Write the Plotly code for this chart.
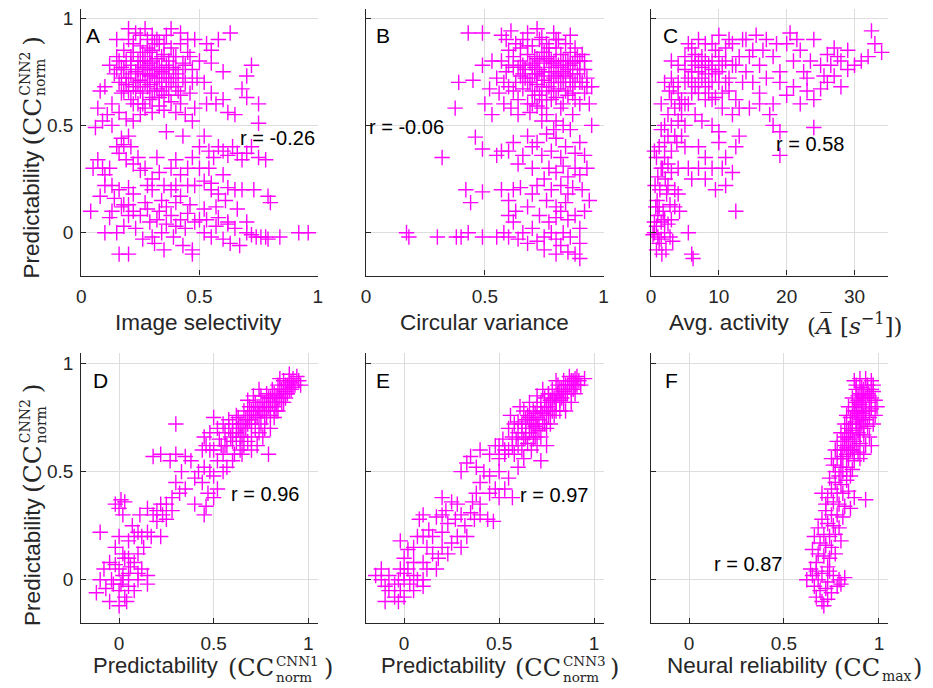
import plotly.graph_objects as go

# ---------------- data ----------------
panel_a_points = [
    (0.12,0.78),(0.14,0.74),(0.15,0.82),(0.16,0.7),(0.17,0.77),(0.18,0.85),(0.18,0.66),(0.19,0.8),(0.2,0.72),(0.2,0.9),
    (0.21,0.62),(0.21,0.78),(0.22,0.84),(0.22,0.68),(0.23,0.75),(0.23,0.93),(0.24,0.8),(0.24,0.6),(0.25,0.71),(0.25,0.87),
    (0.26,0.77),(0.26,0.65),(0.27,0.82),(0.27,0.58),(0.28,0.74),(0.28,0.9),(0.29,0.69),(0.29,0.79),(0.3,0.85),(0.3,0.63),
    (0.31,0.76),(0.31,0.72),(0.32,0.81),(0.32,0.67),(0.33,0.88),(0.33,0.59),(0.34,0.75),(0.34,0.7),(0.35,0.83),(0.35,0.64),
    (0.36,0.78),(0.36,0.92),(0.37,0.72),(0.38,0.86),(0.38,0.61),(0.39,0.77),(0.4,0.68),(0.4,0.82),(0.41,0.74),(0.42,0.88),
    (0.42,0.6),(0.43,0.79),(0.44,0.7),(0.45,0.84),(0.46,0.65),(0.47,0.76),(0.48,0.9),(0.49,0.72),(0.5,0.8),(0.48,0.58),
    (0.13,0.6),(0.1,0.68),(0.08,0.66),(0.07,0.58),(0.11,0.55),(0.16,0.56),(0.09,0.52),(0.06,0.49),(0.13,0.5),(0.19,0.53),
    (0.22,0.52),(0.25,0.55),(0.3,0.56),(0.35,0.57),(0.4,0.56),(0.44,0.55),(0.47,0.52),(0.27,0.95),(0.3,0.92),(0.2,0.95),
    (0.38,0.95),(0.42,0.93),(0.45,0.9),(0.15,0.9),(0.17,0.65),(0.24,0.7),(0.26,0.74),(0.28,0.78),(0.3,0.74),(0.32,0.7),
    (0.27,0.7),(0.23,0.66),(0.33,0.77),(0.29,0.84),(0.31,0.88),(0.25,0.8),(0.36,0.68),(0.37,0.8),(0.39,0.72),(0.34,0.66),
    (0.21,0.74),(0.19,0.69),(0.18,0.76),(0.26,0.84),
    (0.19,0.72),(0.21,0.82),(0.23,0.7),(0.24,0.76),(0.25,0.66),(0.26,0.8),(0.27,0.76),(0.28,0.68),(0.29,0.73),(0.3,0.8),
    (0.31,0.66),(0.32,0.76),(0.33,0.72),(0.34,0.82),(0.35,0.74),(0.36,0.72),(0.37,0.76),(0.38,0.7),(0.39,0.82),(0.4,0.76),
    (0.41,0.66),(0.22,0.88),(0.25,0.92),(0.28,0.86),(0.32,0.9),(0.35,0.88),(0.2,0.66),(0.17,0.72),(0.15,0.76),(0.16,0.8),
    (0.43,0.72),(0.44,0.78),(0.46,0.82),(0.47,0.7),(0.29,0.62),(0.33,0.63),(0.37,0.64),(0.26,0.6),(0.22,0.6),(0.42,0.64),
    (0.53,0.88),(0.55,0.85),(0.58,0.9),(0.63,0.93),(0.55,0.79),(0.6,0.75),(0.7,0.73),(0.72,0.78),(0.68,0.67),
    (0.7,0.63),(0.75,0.6),(0.75,0.51),(0.6,0.62),(0.57,0.6),(0.62,0.56),(0.65,0.55),(0.53,0.6),(0.52,0.7),(0.55,0.65),
    (0.05,0.3),(0.07,0.34),(0.09,0.3),(0.1,0.27),(0.12,0.3),(0.13,0.22),(0.15,0.4),(0.16,0.37),(0.17,0.44),(0.18,0.41),
    (0.19,0.34),(0.2,0.45),(0.21,0.4),(0.22,0.32),(0.24,0.35),(0.25,0.29),(0.27,0.3),(0.28,0.22),(0.3,0.25),(0.32,0.35),
    (0.33,0.28),(0.35,0.22),(0.36,0.47),(0.38,0.3),(0.4,0.34),(0.42,0.27),(0.43,0.45),(0.45,0.3),(0.47,0.35),(0.5,0.4),
    (0.52,0.45),(0.54,0.38),(0.56,0.35),(0.58,0.4),(0.6,0.38),(0.62,0.36),(0.64,0.4),(0.66,0.37),(0.68,0.34),(0.7,0.37),
    (0.72,0.4),(0.75,0.35),(0.78,0.34),(0.6,0.27),(0.55,0.23),(0.52,0.24),(0.5,0.3),(0.45,0.22),(0.4,0.22),(0.38,0.2),
    (0.2,0.21),(0.16,0.2),(0.1,0.22),(0.08,0.17),(0.14,0.16),(0.18,0.13),(0.22,0.18),(0.3,0.2),(0.34,0.15),(0.42,0.17),
    (0.55,0.2),(0.58,0.18),(0.62,0.21),(0.65,0.2),(0.68,0.2),(0.73,0.2),(0.79,0.17),(0.8,0.14),(0.61,0.15),(0.54,0.3),
    (0.48,0.22),
    (0.04,0.1),(0.12,0.07),(0.15,0.0),(0.16,-0.1),(0.18,0.03),(0.2,0.08),(0.2,-0.1),(0.22,0.1),(0.23,0.02),(0.25,0.08),
    (0.26,-0.03),(0.28,0.11),(0.29,0.05),(0.3,-0.02),(0.31,-0.05),(0.32,0.06),(0.33,0.1),(0.34,0.0),(0.35,-0.08),(0.36,0.04),
    (0.38,0.08),(0.39,-0.02),(0.4,0.03),(0.42,0.06),(0.43,-0.06),(0.44,0.02),(0.45,0.09),(0.47,-0.1),(0.47,-0.08),(0.48,0.05),
    (0.5,0.06),(0.52,0.0),(0.53,0.06),(0.55,-0.02),(0.57,0.03),(0.58,0.07),(0.6,-0.03),(0.62,0.04),(0.62,0.05),(0.63,-0.05),
    (0.65,0.02),(0.67,-0.06),(0.7,0.05),(0.7,0.0),(0.72,-0.01),(0.74,-0.02),(0.76,-0.02),(0.78,-0.02),(0.79,-0.03),(0.84,-0.02),
    (0.92,0.0),(0.96,0.0),(0.13,0.1),(0.17,0.12),(0.2,0.13),(0.27,0.14),(0.36,0.12),(0.4,0.14),(0.46,0.13),(0.52,0.11),
    (0.57,0.12),(0.66,0.11),(0.1,0.0),
]

panel_b_points = [
    (0.55,0.72),(0.56,0.65),(0.57,0.8),(0.58,0.6),(0.59,0.75),(0.6,0.68),(0.6,0.85),(0.61,0.58),(0.62,0.77),(0.63,0.7),
    (0.63,0.88),(0.64,0.62),(0.65,0.8),(0.65,0.73),(0.66,0.67),(0.66,0.9),(0.67,0.76),(0.68,0.83),(0.68,0.6),(0.69,0.7),
    (0.7,0.78),(0.7,0.87),(0.71,0.64),(0.71,0.74),(0.72,0.81),(0.72,0.69),(0.73,0.9),(0.73,0.76),(0.74,0.58),(0.74,0.84),
    (0.75,0.71),(0.75,0.79),(0.76,0.66),(0.76,0.88),(0.77,0.75),(0.77,0.82),(0.78,0.62),(0.78,0.7),(0.79,0.79),(0.79,0.93),
    (0.8,0.73),(0.8,0.86),(0.81,0.67),(0.81,0.78),(0.82,0.83),(0.82,0.58),(0.83,0.75),(0.83,0.7),(0.84,0.88),(0.84,0.8),
    (0.85,0.64),(0.85,0.76),(0.86,0.84),(0.86,0.72),(0.87,0.68),(0.87,0.79),(0.88,0.86),(0.88,0.62),(0.89,0.74),(0.9,0.8),
    (0.9,0.7),(0.91,0.83),(0.92,0.65),(0.92,0.76),(0.93,0.72),(0.94,0.6),(0.95,0.68),(0.69,0.56),(0.64,0.55),(0.76,0.55),
    (0.8,0.52),(0.72,0.95),(0.68,0.93),(0.61,0.94),(0.62,0.66),(0.67,0.72),(0.7,0.72),(0.74,0.73),(0.78,0.77),(0.82,0.7),
    (0.84,0.66),(0.86,0.78),(0.79,0.66),(0.73,0.64),(0.77,0.86),(0.81,0.9),(0.75,0.84),(0.71,0.82),(0.66,0.78),(0.88,0.8),
    (0.9,0.6),(0.83,0.6),(0.76,0.62),(0.72,0.59),
    (0.64,0.77),(0.66,0.74),(0.68,0.7),(0.69,0.79),(0.7,0.66),(0.71,0.77),(0.72,0.74),(0.73,0.8),(0.74,0.68),(0.75,0.75),
    (0.76,0.81),(0.77,0.68),(0.78,0.8),(0.79,0.72),(0.8,0.8),(0.81,0.74),(0.82,0.77),(0.83,0.8),(0.84,0.73),(0.85,0.8),
    (0.86,0.7),(0.87,0.74),(0.88,0.7),(0.89,0.82),(0.9,0.76),(0.91,0.7),(0.92,0.8),(0.68,0.87),(0.74,0.91),(0.8,0.9),
    (0.86,0.92),(0.62,0.82),(0.65,0.86),(0.6,0.78),(0.58,0.7),(0.7,0.6),(0.8,0.63),(0.87,0.65),(0.93,0.68),(0.74,0.62),
    (0.43,0.93),(0.49,0.93),(0.57,0.92),(0.59,0.9),(0.49,0.78),(0.53,0.8),(0.39,0.7),(0.45,0.71),(0.375,0.58),(0.52,0.67),
    (0.5,0.6),(0.53,0.55),(0.46,0.445),(0.49,0.39),(0.32,0.35),(0.55,0.36),(0.57,0.38),(0.42,0.2),(0.44,0.14),(0.49,0.19),
    (0.57,0.2),(0.62,0.2),(0.6,0.15),(0.65,0.21),(0.63,0.1),(0.62,0.05),(0.6,0.08),(0.17,0.0),(0.18,-0.02),(0.3,-0.02),
    (0.38,-0.02),(0.4,-0.02),(0.43,0.0),(0.49,-0.02),(0.55,-0.02),(0.6,-0.02),(0.58,0.0),(0.64,-0.03),
    (0.68,0.45),(0.7,0.4),(0.72,0.42),(0.74,0.36),(0.76,0.46),(0.78,0.38),(0.8,0.44),(0.82,0.35),(0.84,0.4),(0.86,0.48),
    (0.88,0.37),(0.9,0.42),(0.92,0.36),(0.77,0.3),(0.8,0.28),(0.83,0.31),(0.85,0.26),(0.88,0.3),(0.9,0.27),(0.75,0.25),
    (0.72,0.22),(0.78,0.2),(0.82,0.22),(0.85,0.18),(0.87,0.21),(0.84,0.14),(0.8,0.12),(0.76,0.15),(0.7,0.18),(0.68,0.12),
    (0.73,0.08),(0.77,0.05),(0.8,0.07),(0.82,0.1),(0.85,0.06),(0.88,0.08),(0.9,0.02),(0.83,0.0),(0.86,-0.02),(0.8,-0.03),
    (0.78,0.0),(0.75,-0.02),(0.72,-0.04),(0.7,0.02),(0.66,0.0),(0.68,-0.05),(0.82,-0.06),(0.85,-0.09),(0.88,-0.1),(0.9,-0.05),
    (0.9,-0.12),(0.8,-0.1),(0.75,-0.08),(0.92,0.1),(0.94,0.15),(0.91,0.2),(0.93,0.3),(0.95,0.5),(0.66,0.36),(0.7,0.3),
    (0.62,0.42),(0.6,0.38),(0.64,0.32),(0.87,0.55),(0.83,0.5),(0.74,0.52),(0.79,0.48),
]

panel_c_points = [
    (0.5,0.0),(1,-0.02),(0.8,0.03),(1.5,0.05),(1.2,-0.05),(2,0.0),(0.3,-0.01),(2.5,0.04),(1.8,0.1),(0.7,0.12),
    (2.2,-0.08),(1.6,-0.1),(3,0.06),(0.9,0.15),(2.8,0.13),(1.3,0.2),(0.6,0.22),(2.1,0.25),(3.5,0.2),(1.7,0.3),
    (0.8,0.35),(2.5,0.32),(4,0.3),(1.2,0.4),(3,0.38),(0.5,0.38),(3.8,0.42),(4.5,0.45),(2,0.42),(5,0.4),
    (4.2,0.1),(4,0.18),(6,-0.1),(6.2,-0.12),(5.5,0.0),(3.2,-0.04),(1,0.08),(2.3,0.18),
    (3,0.5),(3.5,0.45),(2.5,0.45),(1.5,0.48),(4,0.52),(1.5,0.3),(2,0.35),(3,0.28),(2.5,0.22),(1,0.26),
    (3.5,0.12),(1.2,0.12),(2,0.06),(0.5,0.05),(1.5,-0.03),(2.8,-0.02),(0.8,-0.08),
    (2,0.5),(1.5,0.6),(2.5,0.55),(3,0.62),(3.5,0.58),(4,0.65),(4.5,0.55),(5,0.7),(5.5,0.6),(6,0.75),
    (6.5,0.68),(7,0.8),(7.5,0.72),(8,0.62),(8.5,0.78),(9,0.7),(9.5,0.85),(10,0.75),(10.5,0.65),(11,0.8),
    (11.5,0.72),(12,0.88),(12.5,0.78),(13,0.82),(13.5,0.7),(14,0.9),(2,0.7),(3,0.72),(4,0.78),(5,0.82),
    (6,0.86),(7,0.9),(8,0.88),(9,0.8),(10,0.92),(11,0.86),(5.5,0.88),(6.5,0.83),(7.5,0.77),(8.5,0.7),
    (9.5,0.63),(10.5,0.58),(4.2,0.6),(3.3,0.68),(2.7,0.66),(7,0.65),(8,0.74),(6,0.7),(9,0.76),(10,0.7),
    (11.5,0.66),(12.5,0.62),(13,0.58),(12,0.55),(14.5,0.58),(6.5,0.55),(5,0.5),(7.5,0.52),(9,0.5),(10,0.47),
    (4.5,0.62),(5,0.6),(5.5,0.72),(6,0.65),(6.5,0.78),(7,0.7),(7.5,0.82),(8,0.8),(8.5,0.65),(9,0.88),
    (9.5,0.74),(10,0.82),(10.5,0.78),(11,0.7),(11.5,0.9),(12,0.78),(4,0.7),(5,0.76),(3,0.8),(6,0.8),
    (7,0.75),(8,0.68),(9,0.62),
    (7,0.4),(8,0.35),(9,0.3),(10,0.42),(11,0.35),(12,0.28),(12.5,0.4),(13,0.45),(10.5,0.3),(11,0.22),
    (9.5,0.2),(8,0.25),(7,0.3),(12.5,0.1),(5.5,0.3),(6,0.25),
    (15,0.85),(16,0.78),(17,0.9),(18,0.82),(19,0.75),(20,0.88),(21,0.8),(22,0.85),(23,0.72),(24,0.9),
    (25,0.78),(26,0.83),(27,0.86),(28,0.8),(29,0.76),(30,0.78),(32,0.82),(33,0.88),(34,0.84),(32.5,0.94),
    (15,0.7),(16,0.65),(17,0.72),(18,0.6),(19,0.7),(20,0.64),(21,0.68),(22,0.6),(23,0.66),(24,0.62),
    (25,0.67),(26,0.7),(27,0.73),(28,0.68),(17.5,0.55),(18,0.5),(19,0.47),(24,0.49),(19,0.36),(16,0.6),
    (14,0.75),(15.5,0.92),(18.5,0.88),(21.5,0.9),(20.5,0.93),(22.5,0.75),(14.5,0.82),(13.5,0.9),(16.5,0.85),(25.5,0.73),
    (27.5,0.82),(26.5,0.78),(29,0.85),(31,0.8),(23.5,0.8),
]

panel_d_points = [
    (0.5,0.6),(0.52,0.55),(0.53,0.65),(0.55,0.58),(0.56,0.68),(0.57,0.62),(0.58,0.7),(0.6,0.64),(0.6,0.72),(0.61,0.58),
    (0.62,0.68),(0.63,0.75),(0.64,0.66),(0.65,0.72),(0.66,0.78),(0.66,0.62),(0.67,0.7),(0.68,0.76),(0.69,0.8),(0.7,0.72),
    (0.7,0.66),(0.71,0.78),(0.72,0.82),(0.72,0.7),(0.73,0.75),(0.74,0.8),(0.75,0.85),(0.75,0.72),(0.76,0.78),(0.77,0.82),
    (0.78,0.75),(0.78,0.86),(0.79,0.8),(0.8,0.84),(0.8,0.7),(0.81,0.88),(0.82,0.8),(0.83,0.85),(0.84,0.9),(0.84,0.78),
    (0.85,0.84),(0.86,0.88),(0.87,0.82),(0.88,0.9),(0.89,0.86),(0.9,0.92),(0.91,0.88),(0.92,0.93),(0.93,0.9),(0.94,0.94),
    (0.95,0.92),(0.96,0.9),(0.62,0.76),(0.58,0.74),(0.55,0.72),(0.52,0.7),(0.48,0.68),(0.45,0.66),(0.5,0.75),(0.64,0.6),
    (0.68,0.64),(0.74,0.68),(0.77,0.7),(0.8,0.76),(0.82,0.75),(0.76,0.66),(0.57,0.52),(0.55,0.5),(0.6,0.55),(0.65,0.58),
    (0.7,0.6),(0.73,0.62),(0.79,0.58),(0.87,0.92),(0.85,0.93),(0.9,0.95),(0.88,0.84),(0.83,0.82),(0.67,0.74),(0.63,0.7),
    (0.59,0.66),(0.54,0.62),(0.48,0.6),(0.46,0.62),(0.44,0.6),(0.71,0.85),(0.68,0.83),(0.74,0.88),
    (0.6,0.68),(0.62,0.64),(0.64,0.72),(0.66,0.7),(0.68,0.72),(0.69,0.74),(0.7,0.78),(0.72,0.76),(0.73,0.8),(0.74,0.76),
    (0.75,0.78),(0.76,0.82),(0.77,0.76),(0.78,0.8),(0.79,0.84),(0.8,0.8),(0.81,0.82),(0.82,0.86),(0.83,0.78),(0.84,0.84),
    (0.85,0.88),(0.86,0.82),(0.87,0.86),(0.88,0.87),(0.89,0.9),(0.9,0.88),(0.91,0.91),(0.92,0.89),(0.65,0.66),(0.56,0.62),
    (0.45,0.52),(0.48,0.5),(0.44,0.45),(0.5,0.48),(0.52,0.42),(0.47,0.4),(0.42,0.5),(0.4,0.47),(0.38,0.55),(0.35,0.57),
    (0.3,0.58),(0.22,0.58),(0.18,0.57),(0.27,0.55),(0.33,0.5),(0.3,0.45),(0.35,0.42),(0.32,0.4),(0.28,0.38),(0.25,0.35),
    (0.3,0.72),(0.5,0.38),(0.46,0.34),(0.45,0.3),(0.4,0.35),(0.2,0.32),(0.22,0.35),(0.23,0.3),(0.18,0.3),(0.15,0.33),
    (0.2,0.27),(0.25,0.28),(0.28,0.32),(0.15,0.22),(0.12,0.2),(0.1,0.22),(0.08,0.2),(0.13,0.15),(0.1,0.12),(0.05,0.18),
    (0.07,0.25),(0.22,0.2),(0.17,0.2),(0.03,0.36),(0.01,0.37),(0.0,0.33),(0.02,0.3),(-0.02,0.35),(0.11,0.3),
    (-0.1,0.22),(0.0,0.2),(-0.02,0.15),(0.02,0.12),(0.05,0.1),(0.08,0.08),(0.1,0.03),(-0.05,0.08),(-0.08,0.05),(-0.1,0.0),
    (0.0,0.05),(0.02,0.0),(0.05,0.03),(-0.03,-0.02),(0.0,-0.05),(0.03,-0.08),(-0.05,-0.1),(-0.12,-0.06),(0.0,-0.12),(0.02,0.02),
    (-0.02,0.07),(0.05,-0.03),(0.1,0.0),(0.08,-0.05),(-0.04,0.0),(0.01,-0.02),(0.12,0.05),(0.15,0.02),(0.15,-0.02),(0.06,0.06),
    (-0.07,-0.04),(0.03,0.1),(0.04,-0.1),
]

panel_e_points = [
    (0.55,0.6),(0.57,0.66),(0.58,0.58),(0.6,0.68),(0.6,0.62),(0.62,0.72),(0.63,0.65),(0.64,0.7),(0.65,0.76),(0.66,0.68),
    (0.67,0.74),(0.68,0.78),(0.69,0.71),(0.7,0.8),(0.7,0.75),(0.71,0.69),(0.72,0.82),(0.73,0.77),(0.74,0.84),(0.74,0.72),
    (0.75,0.8),(0.76,0.86),(0.77,0.78),(0.78,0.88),(0.78,0.82),(0.79,0.76),(0.8,0.85),(0.81,0.9),(0.82,0.83),(0.83,0.88),
    (0.84,0.92),(0.85,0.86),(0.86,0.9),(0.87,0.94),(0.88,0.88),(0.89,0.92),(0.9,0.9),(0.91,0.94),(0.92,0.92),(0.93,0.9),
    (0.95,0.93),(0.58,0.72),(0.55,0.7),(0.5,0.62),(0.52,0.65),(0.48,0.62),(0.5,0.56),(0.53,0.58),(0.62,0.6),(0.65,0.63),
    (0.68,0.65),(0.72,0.66),(0.75,0.7),(0.77,0.72),(0.8,0.78),(0.82,0.78),(0.84,0.82),(0.6,0.52),(0.63,0.56),(0.67,0.6),
    (0.7,0.62),(0.75,0.62),(0.72,0.55),(0.76,0.86),(0.8,0.92),(0.73,0.88),(0.66,0.82),(0.7,0.85),(0.63,0.78),(0.56,0.76),
    (0.61,0.8),(0.85,0.78),(0.88,0.82),(0.9,0.86),(0.76,0.76),(0.7,0.7),(0.66,0.72),(0.64,0.74),(0.6,0.73),(0.69,0.66),
    (0.62,0.68),(0.64,0.66),(0.66,0.75),(0.68,0.72),(0.69,0.77),(0.71,0.74),(0.72,0.78),(0.73,0.72),(0.74,0.8),(0.75,0.76),
    (0.76,0.8),(0.77,0.83),(0.78,0.78),(0.79,0.84),(0.8,0.82),(0.81,0.86),(0.82,0.88),(0.83,0.84),(0.84,0.87),(0.85,0.9),
    (0.86,0.86),(0.87,0.9),(0.88,0.92),(0.89,0.88),(0.9,0.93),(0.91,0.9),(0.67,0.7),(0.59,0.65),(0.57,0.62),(0.53,0.6),
    (0.45,0.58),(0.4,0.6),(0.35,0.57),(0.3,0.5),(0.33,0.54),(0.38,0.52),(0.42,0.5),(0.45,0.48),(0.5,0.5),(0.55,0.47),
    (0.48,0.42),(0.45,0.4),(0.5,0.38),(0.53,0.42),(0.57,0.38),(0.4,0.45),(0.38,0.4),(0.36,0.36),(0.4,0.35),(0.35,0.31),
    (0.3,0.3),(0.28,0.35),(0.25,0.36),(0.2,0.38),(0.22,0.32),(0.27,0.28),(0.32,0.25),(0.37,0.28),(0.4,0.3),(0.44,0.28),
    (0.47,0.27),(0.23,0.26),(0.2,0.3),(0.17,0.29),(0.2,0.22),(0.1,0.3),(0.08,0.28),(0.13,0.23),(0.1,0.2),(0.07,0.2),
    (0.15,0.2),(0.12,0.15),(0.2,0.15),(0.25,0.17),(0.23,0.12),(0.18,0.1),(0.28,0.2),(0.3,0.15),(0.33,0.2),(0.15,0.12),
    (0.02,0.14),(0.0,0.1),(-0.02,0.18),(0.05,0.15),(0.05,0.08),(0.1,0.08),(0.17,0.05),
    (-0.15,0.02),(-0.12,0.0),(-0.1,-0.03),(-0.08,0.02),(-0.05,-0.02),(-0.03,0.0),(-0.02,-0.05),(0.0,0.0),(0.02,0.05),(0.0,-0.08),
    (-0.05,-0.08),(-0.1,-0.1),(-0.08,-0.05),(0.03,-0.02),(0.05,0.02),(0.07,0.0),(-0.02,0.05),(-0.12,0.05),(0.1,0.0),(0.12,0.05),
    (0.0,0.03),(-0.03,-0.1),(0.05,-0.05),(0.1,-0.03),
]

panel_f_points = [
    (0.87,0.92),(0.9,0.93),(0.93,0.93),(0.96,0.92),(0.88,0.88),(0.91,0.89),(0.94,0.88),(0.97,0.87),(0.86,0.84),(0.89,0.85),
    (0.92,0.84),(0.95,0.85),(0.98,0.83),(0.84,0.8),(0.87,0.8),(0.9,0.81),(0.93,0.8),(0.96,0.79),(0.99,0.8),(0.83,0.76),
    (0.86,0.76),(0.89,0.77),(0.92,0.76),(0.95,0.75),(0.98,0.76),(0.82,0.72),(0.85,0.72),(0.88,0.73),(0.91,0.72),(0.94,0.71),
    (0.97,0.72),(0.8,0.68),(0.83,0.68),(0.86,0.69),(0.89,0.68),(0.92,0.67),(0.95,0.66),(0.78,0.64),(0.81,0.64),(0.84,0.65),
    (0.87,0.64),(0.9,0.63),(0.93,0.62),(0.96,0.62),(0.77,0.6),(0.8,0.6),(0.83,0.61),(0.86,0.6),(0.89,0.59),(0.92,0.58),
    (0.75,0.56),(0.78,0.56),(0.81,0.57),(0.84,0.56),(0.87,0.55),(0.76,0.53),(0.8,0.52),(0.83,0.52),(0.86,0.51),(0.79,0.48),
    (0.9,0.7),(0.93,0.78),(0.95,0.82),(0.91,0.86),(0.88,0.78),(0.85,0.68),(0.82,0.66),(0.9,0.74),(0.94,0.9),(0.88,0.82),
    (0.85,0.75),(0.91,0.8),(0.96,0.88),(0.84,0.62),
    (0.88,0.9),(0.9,0.86),(0.92,0.88),(0.94,0.86),(0.89,0.83),(0.91,0.82),(0.93,0.84),(0.95,0.78),(0.87,0.78),(0.89,0.75),
    (0.91,0.77),(0.93,0.74),(0.86,0.72),(0.88,0.7),(0.9,0.67),(0.92,0.7),(0.84,0.7),(0.86,0.66),(0.88,0.62),(0.85,0.6),
    (0.82,0.62),(0.83,0.58),(0.8,0.56),(0.87,0.58),(0.9,0.56),(0.81,0.5),(0.85,0.48),(0.77,0.5),(0.96,0.84),(0.97,0.9),
    (0.74,0.47),(0.77,0.45),(0.8,0.44),(0.83,0.46),(0.75,0.42),(0.78,0.4),(0.81,0.4),(0.84,0.41),(0.87,0.38),(0.93,0.37),
    (0.73,0.38),(0.76,0.36),(0.79,0.35),(0.82,0.34),(0.85,0.33),(0.72,0.32),(0.75,0.3),(0.78,0.3),(0.81,0.29),(0.7,0.28),
    (0.73,0.26),(0.76,0.25),(0.79,0.24),(0.68,0.24),(0.71,0.21),(0.74,0.2),(0.77,0.21),(0.66,0.2),(0.69,0.17),(0.72,0.16),
    (0.75,0.15),(0.8,0.18),(0.65,0.14),(0.68,0.12),(0.71,0.11),(0.74,0.1),(0.77,0.12),(0.67,0.08),(0.73,0.06),(0.7,0.4),
    (0.72,0.35),
    (0.62,0.0),(0.65,0.02),(0.68,0.0),(0.7,0.03),(0.73,-0.01),(0.76,0.02),(0.79,0.0),(0.82,0.01),(0.66,-0.03),(0.69,-0.05),
    (0.72,-0.04),(0.75,-0.06),(0.67,-0.08),(0.7,-0.1),(0.73,-0.09),(0.71,-0.12),(0.64,0.05),(0.67,0.04),(0.78,-0.03),(0.74,0.04),
    (0.8,-0.02),
]

panel_letters = ["A", "B", "C", "D", "E", "F"]
r_labels = ["r = -0.26", "r = -0.06", "r = 0.58", "r = 0.96", "r = 0.97", "r = 0.87"]
unit_ticks = [0, 0.5, 1]
unit_tick_text = ["0", "0.5", "1"]
activity_ticks = [0, 10, 20, 30]
activity_tick_text = ["0", "10", "20", "30"]

# ---------------- figure ----------------
# The page body has an 8px margin, so the canvas starts at screen (8, 8).
OFF = 8
W, H = 925, 680
MAG = "#ff00ff"
INK = "#262626"
SANS = "Liberation Sans, Arial, sans-serif"
SERIF = "DejaVu Serif, Liberation Serif, serif"


def sx(px):
    return (px - OFF) / W


def sy(py):
    return 1 - (py - OFF) / H


panels = [panel_a_points, panel_b_points, panel_c_points,
          panel_d_points, panel_e_points, panel_f_points]

fig = go.Figure()
for i, pts in enumerate(panels):
    ax = "" if i == 0 else str(i + 1)
    fig.add_trace(go.Scatter(
        x=[p[0] for p in pts], y=[p[1] for p in pts],
        mode="markers", xaxis="x" + ax, yaxis="y" + ax, showlegend=False,
        marker=dict(symbol="cross-thin-open", size=11, color=MAG,
                    line=dict(color=MAG, width=1.4)),
        hoverinfo="x+y", cliponaxis=False,
    ))

col_dom = [[sx(77), sx(316)], [sx(365), sx(605)], [sx(653), sx(893)]]
row_dom = [[sy(275), sy(8)], [sy(623), sy(353)]]
row_range = [[-0.2, 1.042], [-0.2, 1.046]]
x_ranges = [[0, 1], [0, 1], [0, 35], [-0.2, 1.05], [-0.2, 1.05], [-0.2, 1.05]]

common = dict(showline=True, linecolor=INK, linewidth=1.3, showgrid=True,
              gridcolor="#dddddd", gridwidth=1, zeroline=False, ticks="inside",
              ticklen=5, tickcolor=INK, tickwidth=1, ticklabelstandoff=3,
              ticklabeloverflow="allow",
              tickfont=dict(family=SANS, size=19, color=INK), fixedrange=True)

layout = dict(width=W, height=H, margin=dict(l=0, r=0, t=0, b=0),
              paper_bgcolor="white", plot_bgcolor="white", showlegend=False)

for i in range(6):
    r, c = divmod(i, 3)
    ax = "" if i == 0 else str(i + 1)
    if i == 2:
        tv, tt = activity_ticks, activity_tick_text
    else:
        tv, tt = unit_ticks, unit_tick_text
    layout["xaxis" + ax] = dict(common, domain=col_dom[c], range=x_ranges[i],
                                tickvals=tv, ticktext=tt, anchor="y" + ax)
    layout["yaxis" + ax] = dict(common, domain=row_dom[r], range=row_range[r],
                                tickvals=unit_ticks, ticktext=unit_tick_text,
                                showticklabels=(c == 0), anchor="x" + ax)
fig.update_layout(**layout)

# panel letters and r values (data coordinates)
letter_pos = [(0.05, 0.92), (0.07, 0.92), (2.8, 0.92), (-0.1, 0.92), (-0.11, 0.92), (-0.09, 0.92)]
r_pos = [(0.83, 0.44), (0.17, 0.49), (23.5, 0.415), (0.77, 0.395), (0.79, 0.39), (0.31, 0.075)]
for i in range(6):
    ax = "" if i == 0 else str(i + 1)
    fig.add_annotation(x=letter_pos[i][0], y=letter_pos[i][1], xref="x" + ax, yref="y" + ax,
                       text=panel_letters[i], showarrow=False, xanchor="center", yanchor="middle",
                       font=dict(family=SANS, size=21, color="black"))
    fig.add_annotation(x=r_pos[i][0], y=r_pos[i][1], xref="x" + ax, yref="y" + ax,
                       text=r_labels[i], showarrow=False, xanchor="center", yanchor="middle",
                       font=dict(family=SANS, size=20, color="black"))


def piece(text, px, py, size, family, xanchor="left", yanchor="middle", angle=0):
    fig.add_annotation(x=sx(px), y=sy(py), xref="paper", yref="paper", text=text,
                       showarrow=False, xanchor=xanchor, yanchor=yanchor, textangle=angle,
                       borderpad=0, borderwidth=0,
                       font=dict(family=family, size=size, color=INK))


TS = 22.5  # axis-title font size

# top-row x titles
piece("Image selectivity", 196, 322, TS, SANS, xanchor="center")
piece("Circular variance", 485, 322, TS, SANS, xanchor="center")
piece("Avg. activity", 671, 322, TS, SANS)
piece("(<i>A̅</i> [<i>s</i><sup>−1</sup>])", 811, 323, 23, SERIF)

# bottom-row x titles (stacked super/subscripts)
for label, x0, cc_x, sup, sub in [("Predictability", 89, 225, "CNN1", "norm"),
                                  ("Predictability", 380, 515, "CNN3", "norm")]:
    piece(label, x0, 665, 22, SANS)
    piece("(CC", cc_x, 668, 24, SERIF)
    piece(sup, cc_x + 49, 661, 13.5, SERIF)
    piece(sub, cc_x + 49, 677, 13.5, SERIF)
    piece(")", cc_x + 97, 668, 24, SERIF)

piece("Neural reliability", 669, 665, TS, SANS)
piece("(CC", 838, 668, 24, SERIF)
piece("max", 886, 676, 14, SERIF)
piece(")", 918, 668, 24, SERIF)

# y titles (rotated, reading bottom to top)
for shift in (0, 348):
    piece("Predictability", 27, 278 + shift, TS, SANS, xanchor="center", yanchor="bottom", angle=-90)
    piece("(CC", 28, 145 + shift, 25, SERIF, xanchor="center", yanchor="bottom", angle=-90)
    piece("CNN2", 20, 95 + shift, 14, SERIF, xanchor="center", yanchor="bottom", angle=-90)
    piece("norm", 36, 95 + shift, 14, SERIF, xanchor="center", yanchor="bottom", angle=-90)
    piece(")", 28, 45 + shift, 25, SERIF, xanchor="center", yanchor="bottom", angle=-90)

fig.write_html("out.html")
